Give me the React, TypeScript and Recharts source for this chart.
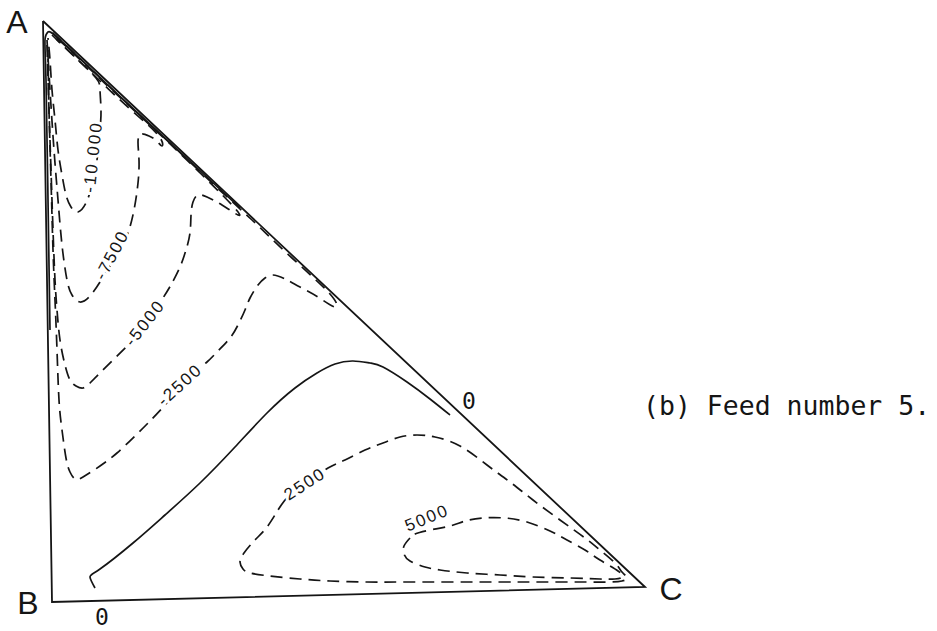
import { ComposedChart, Line, Scatter, XAxis, YAxis } from 'recharts'

// plot units: origin at vertex B, y upwards
const frame = [[-9, 581], [0, 0], [593, 15], [-9, 581]]

// solid lines crowding into the A corner
const cornerBand = [[-2, 272], [-4, 402], [-6, 522], [-7, 562], [-4, 570], [8, 562], [58, 515], [128, 450], [188, 394]]

const negTenThousand = [
  [0, 567], [23, 545], [44, 524], [48, 512], [49, 492], [48, 472], [45, 442], [40, 417], [34, 399], [26, 390],
  [19, 395], [14, 407], [10, 427], [6, 452], [3, 482], [0, 512], [-2, 542], [-4, 564],
]

const negSevenFiveHundred = [
  [-5, 562], [-2, 512], [2, 452], [6, 402], [10, 357], [15, 322], [20, 307], [28, 300], [38, 306], [48, 320],
  [58, 336], [68, 352], [76, 369], [82, 392], [86, 419], [87, 442], [86, 460], [89, 468], [97, 466], [105, 461],
  [110, 456], [106, 467], [78, 493], [48, 521], [23, 545], [4, 563],
]

const negFiveThousand = [
  [-5, 557], [-3, 492], [-1, 432], [1, 372], [3, 322], [5, 292], [8, 262], [13, 237], [18, 222], [24, 216],
  [31, 214], [38, 219], [48, 229], [63, 244], [78, 259], [93, 277], [111, 304], [120, 319], [128, 335], [134, 352],
  [138, 369], [139, 387], [141, 400], [146, 407], [155, 405], [170, 397], [186, 387], [180, 397], [140, 437],
  [100, 475], [60, 512], [20, 550], [0, 568],
]

const negTwoFiveHundred = [
  [-4, 552], [-3, 492], [-1, 422], [1, 352], [3, 302], [5, 252], [7, 202], [10, 172], [14, 144], [18, 130],
  [23, 123], [31, 125], [48, 136], [65, 149], [83, 166], [98, 181], [113, 197], [128, 214], [143, 230], [155, 240],
  [166, 251], [178, 264], [186, 277], [193, 292], [198, 304], [206, 317], [213, 324], [221, 327], [233, 323],
  [248, 315], [266, 305], [283, 295], [278, 308], [240, 344], [200, 382], [160, 419], [120, 457], [80, 494],
  [40, 532], [0, 570],
]

const zeroLine = [
  [43, 14], [38, 25], [48, 33], [81, 59], [113, 87], [148, 119], [183, 155], [215, 189], [243, 214], [265, 229],
  [283, 238], [301, 241], [318, 239], [331, 235], [355, 220], [378, 203], [398, 187],
]

const posTwoFiveHundred = [
  [233, 102], [226, 92], [215, 75], [203, 62], [192, 49], [188, 40], [191, 33], [198, 29], [218, 26], [248, 23],
  [278, 21], [315, 20], [348, 20], [398, 20], [448, 20], [488, 20], [528, 20], [558, 20], [570, 21], [575, 24],
  [570, 30], [563, 39], [548, 52], [533, 64], [508, 82], [481, 102], [458, 120], [435, 137], [408, 156], [383, 165],
  [365, 167], [348, 165], [331, 159], [313, 152], [293, 142], [276, 134], [253, 118], [233, 102],
]

const posFiveThousand = [
  [358, 64], [352, 56], [352, 48], [358, 41], [373, 35], [388, 32], [415, 29], [448, 27], [481, 25], [518, 24],
  [548, 23], [563, 23], [570, 25], [566, 31], [548, 42], [533, 52], [515, 62], [498, 71], [475, 80], [453, 84],
  [431, 84], [413, 81], [398, 76], [378, 72], [363, 68], [358, 64],
]

const contourLabelText = ['-10 000', '-7500', '-5000', '-2500', '2500', '5000']
const contourLabelX = [41, 60, 93, 128, 253, 375]
const contourLabelY = [445, 347, 279, 217, 118, 84]

const zeroLabelX = [417, 50]
const zeroLabelY = [201, -15]

const vertexNames = ['A', 'B', 'C']
const vertexX = [-35, -24, 619]
const vertexY = [580, -1, 13]

const caption = '(b) Feed number 5.'
const captionX = 591
const captionY = 187

const toPoints = (rows: number[][]) => rows.map(([x, y]) => ({ x, y }))

const series = [
  { name: 'frame', rows: frame, dashed: false },
  { name: 'corner', rows: cornerBand, dashed: false },
  { name: '-10000', rows: negTenThousand, dashed: true },
  { name: '-7500', rows: negSevenFiveHundred, dashed: true },
  { name: '-5000', rows: negFiveThousand, dashed: true },
  { name: '-2500', rows: negTwoFiveHundred, dashed: true },
  { name: '0', rows: zeroLine, dashed: false },
  { name: '2500', rows: posTwoFiveHundred, dashed: true },
  { name: '5000', rows: posFiveThousand, dashed: true },
]

const labelAngle = [-84, -62, -52, -42, -33, -22]

const texts = [
  ...contourLabelText.map((t, i) => ({ x: contourLabelX[i], y: contourLabelY[i], t, kind: 'contour', angle: labelAngle[i] })),
  ...zeroLabelX.map((x, i) => ({ x, y: zeroLabelY[i], t: '0', kind: 'zero', angle: 0 })),
  ...vertexNames.map((t, i) => ({ x: vertexX[i], y: vertexY[i], t, kind: 'vertex', angle: 0 })),
  { x: captionX, y: captionY, t: caption, kind: 'caption', angle: 0 },
]

const INK = '#151515'

function TextMark(props: any) {
  const { cx, cy } = props
  const p = props.payload ?? props
  if (cx == null || cy == null) return null
  if (p.kind === 'contour') {
    return (
      <text x={cx} y={cy} transform={`rotate(${p.angle} ${cx} ${cy})`} textAnchor="middle" dominantBaseline="central"
        fontFamily="Liberation Sans, sans-serif" fontSize={17} letterSpacing={2} fill={INK}
        stroke="#fff" strokeWidth={6} paintOrder="stroke">
        {p.t}
      </text>
    )
  }
  if (p.kind === 'zero') {
    return (
      <text x={cx} y={cy} textAnchor="middle" dominantBaseline="central" fontFamily="DejaVu Sans Mono, monospace"
        fontSize={23} fill={INK}>
        {p.t}
      </text>
    )
  }
  if (p.kind === 'vertex') {
    return (
      <text x={cx} y={cy} textAnchor="middle" dominantBaseline="central" fontFamily="Liberation Sans, sans-serif"
        fontSize={32} fill={INK}>
        {p.t}
      </text>
    )
  }
  return (
    <text x={cx} y={cy} textAnchor="start" fontFamily="DejaVu Sans Mono, monospace" fontSize={26.5} fill={INK}>
      {p.t}
    </text>
  )
}

export default function App() {
  return (
    <div style={{ position: 'absolute', left: 0, top: 0, width: 937, height: 631, background: '#fff' }}>
      <ComposedChart width={937} height={631} margin={{ top: 0, right: 0, bottom: 0, left: 0 }}>
        <XAxis type="number" dataKey="x" domain={[-52, 885]} allowDataOverflow scale="linear" hide />
        <YAxis type="number" dataKey="y" domain={[-29, 602]} allowDataOverflow scale="linear" hide />
        {series.map(s => (
          <Line key={s.name} data={toPoints(s.rows)} dataKey="y" type={s.name === 'frame' ? 'linear' : 'natural'}
            stroke={INK} strokeWidth={s.name === 'frame' ? 1.8 : 1.7} strokeDasharray={s.dashed ? '12 7' : undefined}
            dot={false} activeDot={false} isAnimationActive={false} />
        ))}
        <Scatter data={texts} dataKey="y" shape={TextMark} isAnimationActive={false} />
      </ComposedChart>
    </div>
  )
}
